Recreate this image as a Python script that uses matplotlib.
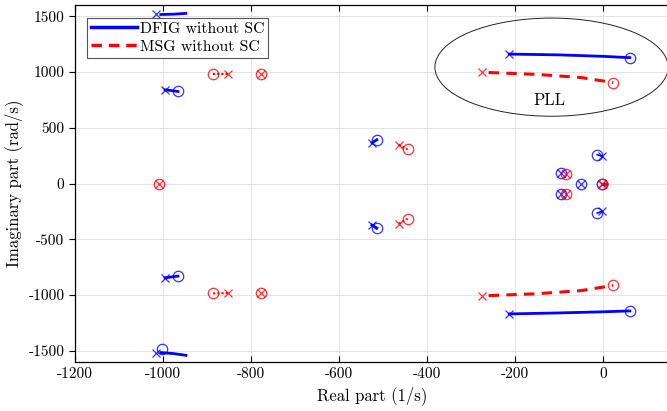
import numpy as np
import matplotlib.pyplot as plt
from matplotlib.patches import Ellipse
from matplotlib.lines import Line2D

plt.rcParams['font.family'] = 'serif'
plt.rcParams['font.serif'] = ['cmr10', 'DejaVu Serif']
plt.rcParams['axes.unicode_minus'] = False
plt.rcParams['mathtext.fontset'] = 'cm'

# DFIG without SC: loci (real, imag) and pole / zero markers
dfig_paths = [
    [(-1005, 1515), (-975, 1518), (-948, 1525)],
    [(-1005, -1515), (-975, -1525), (-948, -1540)],
    [(-995, 840), (-966, 825)],
    [(-995, -845), (-966, -830)],
    [(-525, 365), (-514, 392)],
    [(-525, -372), (-514, -400)],
    [(-213, 1160), (-100, 1153), (0, 1140), (61, 1128)],
    [(-213, -1169), (-100, -1160), (0, -1150), (61, -1142)],
    [(-3, 245), (-13, 258)],
    [(-3, -250), (-13, -265)],
]
dfig_x_re = [-1016, -1016, -995, -995, -525, -525, -213, -213, -3, -3, -95, -95, -50, -2]
dfig_x_im = [1520, -1520, 840, -845, 365, -372, 1160, -1169, 245, -250, 90, -95, 0, 0]
dfig_o_re = [-1002, -966, -966, -514, -514, 61, 61, -13, -13, -95, -95, -50, -2]
dfig_o_im = [-1484, 825, -830, 392, -400, 1128, -1142, 258, -265, 90, -95, 0, 0]

# MSG without SC
msg_paths = [
    [(-886, 978), (-852, 978)],
    [(-886, -985), (-852, -982)],
    [(-464, 348), (-444, 305)],
    [(-464, -360), (-444, -315)],
    [(-260, 995), (-150, 978), (-50, 950), (23, 905)],
    [(-260, -1005), (-150, -988), (-50, -960), (23, -914)],
    [(-3, 0), (12, 0)],
]
msg_x_re = [-852, -852, -778, -778, -1009, -464, -464, -275, -275, -85, -85, -3]
msg_x_im = [978, -982, 982, -985, 0, 348, -360, 997, -1007, 85, -90, 0]
msg_o_re = [-886, -886, -778, -778, -1009, -444, -444, 23, 23, -85, -85, -3]
msg_o_im = [978, -985, 982, -985, 0, 305, -315, 905, -914, 85, -90, 0]

blue = '#0000ff'
red = '#ff0000'

fig = plt.figure(figsize=(6.67, 4.11), dpi=100)
ax = fig.add_axes([0.1124, 0.1192, 0.8906, 0.8686])

ax.grid(True, color='#e3e3e3', linewidth=0.7)
ax.set_axisbelow(True)

for i, p in enumerate(dfig_paths):
    p = np.array(p)
    lw = 2.0 if i < 8 else 1.2
    ax.plot(p[:, 0], p[:, 1], '-', color=blue, lw=lw)
for i, p in enumerate(msg_paths):
    p = np.array(p)
    ls = (0, (1, 1)) if i < 4 else (0, (3.4, 2.4))
    lw = 1.5 if i < 4 else 2.2
    ax.plot(p[:, 0], p[:, 1], linestyle=ls, color=red, lw=lw)

ax.plot(dfig_x_re, dfig_x_im, 'x', color=blue, ms=5.5, mew=0.9, ls='none', alpha=0.8)
ax.plot(dfig_o_re, dfig_o_im, 'o', color=blue, ms=7.5, mew=0.9, mfc='none', ls='none', alpha=0.8)
ax.plot(msg_x_re, msg_x_im, 'x', color=red, ms=5.5, mew=0.9, ls='none', alpha=0.8)
ax.plot(msg_o_re, msg_o_im, 'o', color=red, ms=7.5, mew=0.9, mfc='none', ls='none', alpha=0.8)

ax.add_patch(Ellipse((-117, 1043), 530, 880, fill=False, ec='#222222', lw=0.7))
ax.text(-122, 746, 'PLL', fontsize=12, ha='center', va='center')

ax.set_xlim(-1200, 150)
ax.set_ylim(-1600, 1600)
ax.set_xticks(np.arange(-1200, 1, 200))
ax.set_yticks(np.arange(-1500, 1501, 500))
ax.tick_params(axis='both', labelsize=11, length=4, width=0.8)
ax.tick_params(axis='x', direction='in', top=True)
ax.tick_params(axis='y', direction='out', right=True)
for s in ax.spines.values():
    s.set_linewidth(0.9)

ax.set_xlabel('Real part (1/s)', fontsize=12)
ax.set_ylabel('Imaginary part (rad/s)', fontsize=12)

handles = [Line2D([], [], color=blue, lw=2.5),
           Line2D([], [], color=red, lw=2.5, linestyle=(0, (3, 2)))]
leg = ax.legend(handles, ['DFIG without SC', 'MSG without SC'], loc='upper left',
                bbox_to_anchor=(0.02, 0.964), borderaxespad=0, fontsize=11.4,
                fancybox=False, framealpha=1, edgecolor='#555555',
                handlelength=2.9, borderpad=0.25, labelspacing=0.25, handletextpad=0.2)
leg.get_frame().set_linewidth(0.8)
leg.set_zorder(10)

fig.savefig('out.png', dpi=100)
